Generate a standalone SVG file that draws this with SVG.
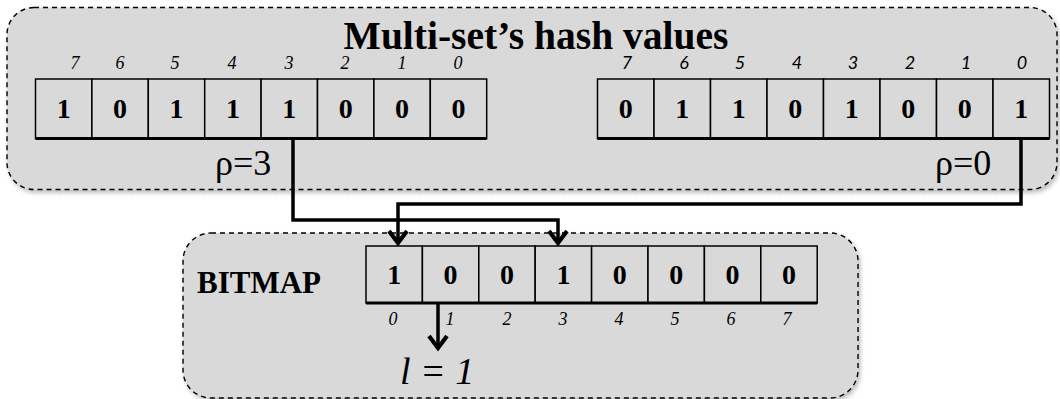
<svg xmlns="http://www.w3.org/2000/svg" width="1060" height="399" viewBox="0 0 1060 399">
<style>
.box{fill:#d9d9d9;stroke:#000;stroke-width:1.4;stroke-dasharray:5 4;}
.cell{fill:#d9d9d9;stroke:#000;stroke-width:1.5;}
.base{stroke:#000;stroke-width:3.2;fill:none;}
.bit{font-family:"Liberation Serif",serif;font-weight:bold;font-size:28px;text-anchor:middle;fill:#000;}
.idx{font-family:"Liberation Serif",serif;font-style:italic;font-size:18px;text-anchor:middle;fill:#000;}
.idxs{font-family:Lato,"Liberation Sans",sans-serif;font-style:italic;font-size:18px;text-anchor:middle;fill:#000;}
.rho{font-family:"Liberation Serif",serif;font-size:36px;fill:#000;}
.conn{stroke:#000;stroke-width:3.5;fill:none;stroke-linejoin:miter;}
</style>
<defs>
<filter id="sh" x="-5%" y="-10%" width="110%" height="125%">
<feDropShadow dx="2" dy="3" stdDeviation="2" flood-color="#000" flood-opacity="0.25"/>
</filter>
<marker id="arr" markerUnits="userSpaceOnUse" markerWidth="24" markerHeight="24" viewBox="-14 -10 18 20" refX="0" refY="0" orient="auto">
<path d="M-10,-7.5 L0,0 L-10,7.5" fill="none" stroke="#000" stroke-width="3.5"/>
</marker>
</defs>

<g id="multiset">
<rect class="box" x="7" y="7.5" width="1050" height="182" rx="27" ry="27" filter="url(#sh)"/>
<text x="536" y="49" font-family="Liberation Serif,serif" font-weight="bold" font-size="39.5" text-anchor="middle">Multi-set’s hash values</text>
</g>

<g id="hash1">
<g>
<rect class="cell" x="35.5" y="79" width="56.4" height="59.5"/>
<rect class="cell" x="91.9" y="79" width="56.4" height="59.5"/>
<rect class="cell" x="148.3" y="79" width="56.4" height="59.5"/>
<rect class="cell" x="204.7" y="79" width="56.4" height="59.5"/>
<rect class="cell" x="261.1" y="79" width="56.4" height="59.5"/>
<rect class="cell" x="317.5" y="79" width="56.4" height="59.5"/>
<rect class="cell" x="373.9" y="79" width="56.4" height="59.5"/>
<rect class="cell" x="430.3" y="79" width="56.4" height="59.5"/>
<line class="base" x1="35.5" y1="138.5" x2="486.7" y2="138.5"/>
</g>
<text class="bit" x="63.7" y="117.5">1</text>
<text class="bit" x="120.1" y="117.5">0</text>
<text class="bit" x="176.5" y="117.5">1</text>
<text class="bit" x="232.9" y="117.5">1</text>
<text class="bit" x="289.3" y="117.5">1</text>
<text class="bit" x="345.7" y="117.5">0</text>
<text class="bit" x="402.1" y="117.5">0</text>
<text class="bit" x="458.5" y="117.5">0</text>
<text class="idx" x="75" y="69">7</text>
<text class="idx" x="120" y="69">6</text>
<text class="idx" x="175" y="69">5</text>
<text class="idx" x="232" y="69">4</text>
<text class="idx" x="289" y="69">3</text>
<text class="idx" x="345" y="69">2</text>
<text class="idx" x="402" y="69">1</text>
<text class="idx" x="458" y="69">0</text>
<text class="rho" x="215" y="175">ρ=3</text>
</g>

<g id="hash2">
<g>
<rect class="cell" x="597.5" y="79" width="56.5" height="59.5"/>
<rect class="cell" x="654" y="79" width="56.5" height="59.5"/>
<rect class="cell" x="710.5" y="79" width="56.5" height="59.5"/>
<rect class="cell" x="767" y="79" width="56.5" height="59.5"/>
<rect class="cell" x="823.5" y="79" width="56.5" height="59.5"/>
<rect class="cell" x="880" y="79" width="56.5" height="59.5"/>
<rect class="cell" x="936.5" y="79" width="56.5" height="59.5"/>
<rect class="cell" x="993" y="79" width="56.5" height="59.5"/>
<line class="base" x1="597.5" y1="138.5" x2="1049.5" y2="138.5"/>
</g>
<text class="bit" x="625.8" y="117.5">0</text>
<text class="bit" x="682.3" y="117.5">1</text>
<text class="bit" x="738.8" y="117.5">1</text>
<text class="bit" x="795.3" y="117.5">0</text>
<text class="bit" x="851.8" y="117.5">1</text>
<text class="bit" x="908.3" y="117.5">0</text>
<text class="bit" x="964.8" y="117.5">0</text>
<text class="bit" x="1021.3" y="117.5">1</text>
<text class="idxs" x="627" y="69">7</text>
<text class="idxs" x="684" y="69">6</text>
<text class="idxs" x="740" y="69">5</text>
<text class="idxs" x="797" y="69">4</text>
<text class="idxs" x="853" y="69">3</text>
<text class="idxs" x="910" y="69">2</text>
<text class="idxs" x="966" y="69">1</text>
<text class="idxs" x="1022" y="69">0</text>
<text class="rho" x="935" y="175">ρ=0</text>
</g>

<g id="bitmap">
<rect class="box" x="183" y="233" width="675" height="165" rx="28" ry="28" filter="url(#sh)"/>
<text x="197" y="293" font-family="Liberation Serif,serif" font-weight="bold" font-size="31">BITMAP</text>
<g>
<rect class="cell" x="366" y="246" width="56.4" height="57"/>
<rect class="cell" x="422.4" y="246" width="56.4" height="57"/>
<rect class="cell" x="478.8" y="246" width="56.4" height="57"/>
<rect class="cell" x="535.2" y="246" width="56.4" height="57"/>
<rect class="cell" x="591.6" y="246" width="56.4" height="57"/>
<rect class="cell" x="648" y="246" width="56.4" height="57"/>
<rect class="cell" x="704.4" y="246" width="56.4" height="57"/>
<rect class="cell" x="760.8" y="246" width="56.4" height="57"/>
<line class="base" x1="366" y1="303" x2="817.2" y2="303"/>
</g>
<text class="bit" x="394.2" y="284">1</text>
<text class="bit" x="450.6" y="284">0</text>
<text class="bit" x="507" y="284">0</text>
<text class="bit" x="563.4" y="284">1</text>
<text class="bit" x="619.8" y="284">0</text>
<text class="bit" x="676.2" y="284">0</text>
<text class="bit" x="732.6" y="284">0</text>
<text class="bit" x="789" y="284">0</text>
<text class="idx" x="393" y="325">0</text>
<text class="idx" x="450" y="325">1</text>
<text class="idx" x="507" y="325">2</text>
<text class="idx" x="563" y="325">3</text>
<text class="idx" x="619" y="325">4</text>
<text class="idx" x="675" y="325">5</text>
<text class="idx" x="731" y="325">6</text>
<text class="idx" x="787" y="325">7</text>
<text x="400" y="384" font-family="Liberation Serif,serif" font-style="italic" font-size="38">l = 1</text>
</g>

<g id="connectors">
<polyline class="conn" points="293,139 293,220 558,220 558,243" marker-end="url(#arr)"/>
<polyline class="conn" points="1021,139 1021,204 398,204 398,243" marker-end="url(#arr)"/>
<polyline class="conn" points="438,303 438,348" marker-end="url(#arr)"/>
</g>
</svg>
